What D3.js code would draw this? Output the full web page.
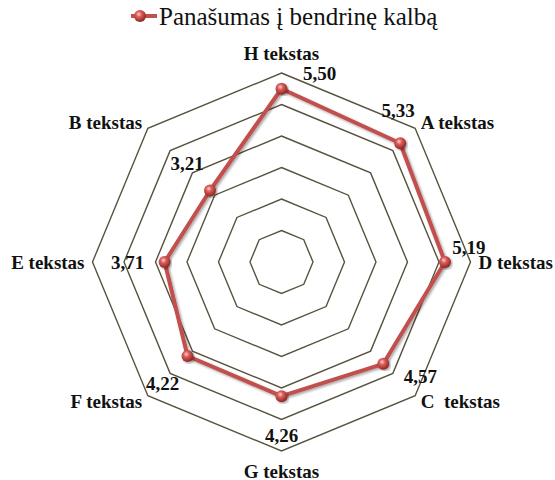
<!DOCTYPE html>
<html>
<head>
<meta charset="utf-8">
<script src="https://cdn.jsdelivr.net/npm/d3@7"></script>
<style>
  html, body { margin: 0; padding: 0; background: #fff; }
  svg { display: block; }
</style>
</head>
<body>
<svg id="chart" width="555" height="480"></svg>
<script>
// ---- data ----
const seriesName = "Panašumas į bendrinę kalbą";
const categories = ["H tekstas", "A tekstas", "D tekstas", "C  tekstas", "G tekstas", "F tekstas", "E tekstas", "B tekstas"];
const values = [5.50, 5.33, 5.19, 4.57, 4.26, 4.22, 3.71, 3.21];
const ringTicks = [1, 2, 3, 4, 5, 6];
// label placement offsets (px) relative to each point
const labelDx = [38, -2, 24, 37, 0, -25, -37, -23];
const labelDy = [-15, -33, -15, 13, 39, 28, 0, -27];

// ---- layout ----
const cx = 281.5, cy = 262, R = 189;
const red = "#c0504d";
const ringColor = "#57533d";
const serif = "\"Liberation Serif\"";

const svg = d3.select("#chart");
const defs = svg.append("defs");

const grad = defs.append("radialGradient").attr("id", "ball")
  .attr("cx", "40%").attr("cy", "35%").attr("r", "65%");
grad.append("stop").attr("offset", "0%").attr("stop-color", "#ffd0cf");
grad.append("stop").attr("offset", "35%").attr("stop-color", "#dc5f5c");
grad.append("stop").attr("offset", "100%").attr("stop-color", "#8e2522");

const shadow = defs.append("filter").attr("id", "shadow")
  .attr("x", "-10%").attr("y", "-10%").attr("width", "120%").attr("height", "120%");
shadow.append("feDropShadow").attr("dx", 1.5).attr("dy", 1.5).attr("stdDeviation", 1.2)
  .attr("flood-color", "#000").attr("flood-opacity", 0.35);

const r = d3.scaleLinear().domain([0, d3.max(ringTicks)]).range([0, R]);
const angle = d3.scaleLinear().domain([0, categories.length]).range([0, 2 * Math.PI]);

const px = (i, v) => cx + r(v) * Math.sin(angle(i));
const py = (i, v) => cy - r(v) * Math.cos(angle(i));

// rings
const lineRadial = d3.lineRadial()
  .angle((d, i) => angle(i))
  .radius(d => r(d))
  .curve(d3.curveLinearClosed);

svg.append("g").attr("transform", `translate(${cx},${cy})`)
  .selectAll("path.ring").data(ringTicks).join("path")
  .attr("class", "ring")
  .attr("d", t => lineRadial(categories.map(() => t)))
  .attr("fill", "none")
  .attr("stroke", ringColor)
  .attr("stroke-width", 1.4);

// category labels
svg.append("g").selectAll("text.cat").data(categories).join("text")
  .attr("class", "cat")
  .attr("x", (d, i) => cx + (R + 8) * Math.sin(angle(i)))
  .attr("y", (d, i) => {
    const c = Math.cos(angle(i));
    let y = cy - (R + 8) * c;
    if (Math.abs(c) > 0.99) y += (c > 0 ? -12 : 12);
    return y;
  })
  .attr("text-anchor", (d, i) => {
    const s = Math.sin(angle(i));
    return Math.abs(s) < 0.01 ? "middle" : (s > 0 ? "start" : "end");
  })
  .attr("dominant-baseline", "central")
  .style("font-family", serif)
  .style("font-size", "19px")
  .style("font-weight", "bold")
  .style("white-space", "pre")
  .attr("fill", "#111")
  .text(d => d);

// series line
const seriesG = svg.append("g").attr("transform", `translate(${cx},${cy})`);
seriesG.append("path")
  .attr("d", lineRadial(values))
  .attr("fill", "none")
  .attr("stroke", red)
  .attr("stroke-width", 4)
  .attr("stroke-linejoin", "round")
  .attr("filter", "url(#shadow)");

// markers
svg.append("g").selectAll("circle.pt").data(values).join("circle")
  .attr("class", "pt")
  .attr("cx", (d, i) => px(i, d))
  .attr("cy", (d, i) => py(i, d))
  .attr("r", 6)
  .attr("fill", "url(#ball)")
  .attr("filter", "url(#shadow)");

// data labels
const fmt = v => d3.format(".2f")(v).replace(".", ",");
svg.append("g").selectAll("text.val").data(values).join("text")
  .attr("class", "val")
  .attr("x", (d, i) => px(i, d) + labelDx[i])
  .attr("y", (d, i) => py(i, d) + labelDy[i])
  .attr("text-anchor", "middle")
  .attr("dominant-baseline", "central")
  .style("font-family", serif)
  .style("font-size", "19px")
  .style("font-weight", "bold")
  .attr("fill", "#111")
  .text(d => fmt(d));

// legend
const lg = svg.append("g");
lg.append("line").attr("x1", 131).attr("x2", 157).attr("y1", 16).attr("y2", 16)
  .attr("stroke", red).attr("stroke-width", 4);
lg.append("circle").attr("cx", 140).attr("cy", 16).attr("r", 6).attr("fill", "url(#ball)");
lg.append("text").attr("x", 159).attr("y", 16)
  .attr("dominant-baseline", "central")
  .style("font-family", serif)
  .style("font-size", "25px")
  .attr("fill", "#111")
  .text(seriesName);
</script>
</body>
</html>
